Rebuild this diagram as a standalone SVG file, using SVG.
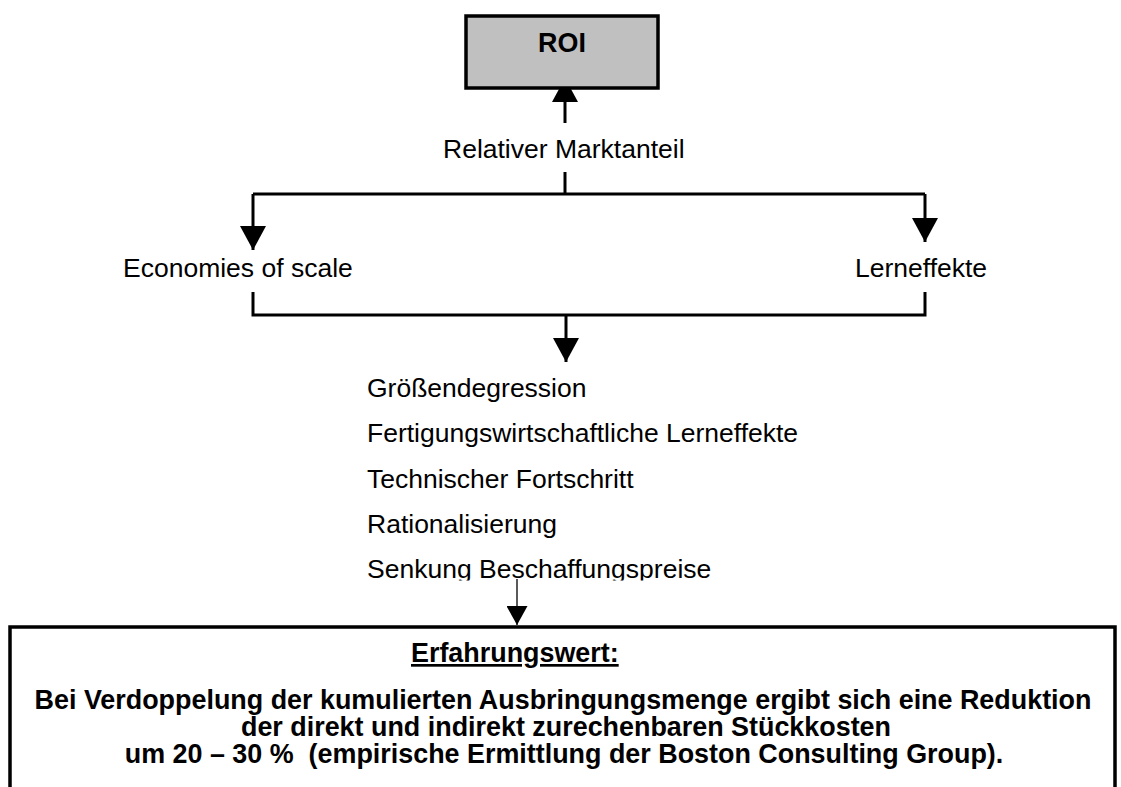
<svg xmlns="http://www.w3.org/2000/svg" width="1121" height="787" viewBox="0 0 1121 787">
  <style>
    text { font-family: "Liberation Sans", Arial, sans-serif; fill: #000; }
    .lbl { font-size: 26.5px; }
    .bold { font-size: 26.9px; font-weight: bold; }
    .conn { fill: none; stroke: #000; stroke-width: 3; stroke-linejoin: miter; stroke-linecap: butt; }
    .thin { fill: none; stroke: #000; stroke-width: 1.3; }
  </style>
  <defs>
    <marker id="bigArrow" markerUnits="userSpaceOnUse" viewBox="0 0 24 26" markerWidth="24" markerHeight="26" refX="24" refY="13" orient="auto">
      <path d="M0,0 L24,13 L0,26 Z" fill="#000"/>
    </marker>
    <marker id="smallArrow" markerUnits="userSpaceOnUse" viewBox="0 0 19 21" markerWidth="19" markerHeight="21" refX="19" refY="10.5" orient="auto">
      <path d="M0,0 L19,10.5 L0,21 Z" fill="#000"/>
    </marker>
    <clipPath id="lastLineClip">
      <rect x="300" y="540" width="600" height="40.5"/>
    </clipPath>
  </defs>

  <rect width="1121" height="787" fill="#fff"/>

  <!-- connectors -->
  <g id="connectors">
    <path class="conn" d="M565,123 V78" marker-end="url(#bigArrow)"/>
    <path class="conn" d="M565,172 V194"/>
    <path class="conn" d="M253,194 H925"/>
    <path class="conn" d="M253,194 V250" marker-end="url(#bigArrow)"/>
    <path class="conn" d="M925,194 V242" marker-end="url(#bigArrow)"/>
    <path class="conn" d="M253,292 V315 H925 V292"/>
    <path class="conn" d="M566,315 V362" marker-end="url(#bigArrow)"/>
    <path class="thin" d="M517,579 V625" marker-end="url(#smallArrow)"/>
  </g>

  <!-- ROI box -->
  <g id="roi">
    <rect x="466" y="16" width="192" height="72" fill="#c0c0c0" stroke="#000" stroke-width="3.5"/>
    <text class="bold" x="562" y="52" text-anchor="middle">ROI</text>
  </g>

  <g id="marktanteil">
    <text class="lbl" x="443" y="158">Relativer Marktanteil</text>
  </g>

  <g id="economies">
    <text class="lbl" x="123" y="277">Economies of scale</text>
  </g>

  <g id="lerneffekte">
    <text class="lbl" x="855" y="277">Lerneffekte</text>
  </g>

  <!-- list of cost drivers -->
  <g id="faktoren">
    <text class="lbl" x="367" y="397">Größendegression</text>
    <text class="lbl" x="367" y="442">Fertigungswirtschaftliche Lerneffekte</text>
    <text class="lbl" x="367" y="488">Technischer Fortschritt</text>
    <text class="lbl" x="367" y="533">Rationalisierung</text>
    <text class="lbl" x="367" y="578" clip-path="url(#lastLineClip)">Senkung Beschaffungspreise</text>
  </g>

  <!-- experience value box -->
  <g id="erfahrungswert">
    <path d="M10,800 V627 H1115 V800" fill="#fff" stroke="#000" stroke-width="3.5"/>
    <text class="bold" x="411" y="662" text-decoration="underline">Erfahrungswert:</text>
    <text class="bold" x="563" y="709" text-anchor="middle">Bei Verdoppelung der kumulierten Ausbringungsmenge ergibt sich eine Reduktion</text>
    <text class="bold" x="566" y="736" text-anchor="middle">der direkt und indirekt zurechenbaren Stückkosten</text>
    <text class="bold" x="564" y="763" text-anchor="middle" xml:space="preserve">um 20 – 30 %  (empirische Ermittlung der Boston Consulting Group).</text>
  </g>
</svg>
